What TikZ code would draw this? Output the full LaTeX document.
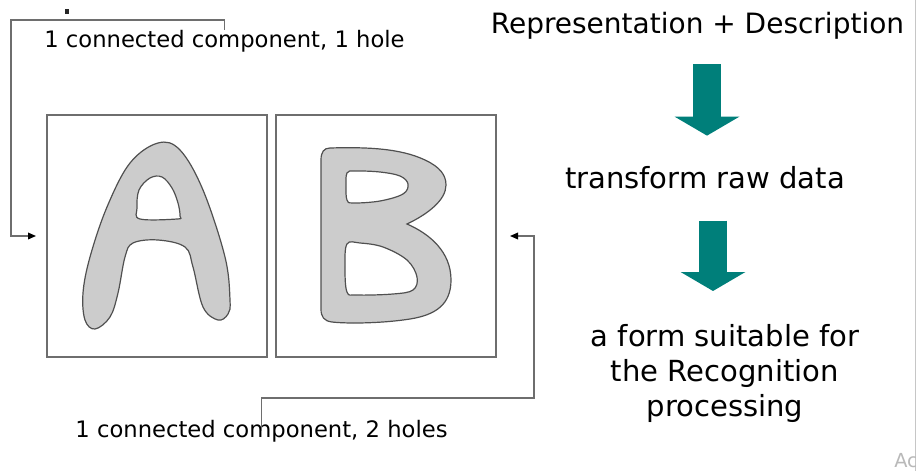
\documentclass[tikz,border=0pt]{standalone}
\usepackage{fontspec}
\setmainfont{DejaVu Sans}
\usetikzlibrary{arrows.meta,positioning,calc}
\definecolor{ArrowTeal}{HTML}{007F7A}
\definecolor{GlyphGray}{HTML}{CCCCCC}
\definecolor{GlyphEdge}{HTML}{505050}
\definecolor{FrameGray}{HTML}{6E6E6E}

\begin{document}
\begin{tikzpicture}[x=0.75pt,y=-0.75pt,
letterbox/.style={draw=FrameGray,line width=1.1pt,minimum width=165pt,minimum height=181.5pt,inner sep=0pt},
glyph/.style={draw=GlyphEdge,line width=0.9pt,fill=GlyphGray},
hole/.style={draw=GlyphEdge,line width=0.9pt,fill=white},
note/.style={font=\fontsize{17}{20}\selectfont,inner sep=0pt,anchor=base},
flowtext/.style={font=\fontsize{21.8}{26.25}\selectfont,inner sep=0pt,align=center},
link/.style={draw=FrameGray,line width=1pt,-{Triangle[length=6pt,width=5pt,black]}},
bigarrow/.style={draw=ArrowTeal,line width=21pt,-{Triangle[length=14.25pt,width=48pt]}}
]
\useasboundingbox (0,0) rectangle (916,471);

% Panel A: the two letter boxes
\node[letterbox] (boxA) at (157,236) {};
\node[letterbox] (boxB) at (386,236) {};
\draw[glyph] plot[smooth cycle,tension=0.6] coordinates {(95,329) (85,320) (83,293) (90,257) (107,207) (130,163) (158,143) (180,150) (203,190) (225,257) (230,300) (228,314) (218,320) (203,307) (193,267) (185,247) (158,240) (133,243) (125,257) (118,293) (110,317)};
\draw[hole] plot[smooth cycle,tension=0.6] coordinates {(140,219) (137,208) (139,190) (150,178) (162,177) (172,188) (178,203) (180,216) (177,219)};
\draw[glyph] (330,148) .. controls (365,147) and (400,148) .. (425,160)
  .. controls (440,167) and (446,175) .. (446,185)
  .. controls (446,200) and (428,214) .. (407,224)
  .. controls (430,234) and (451,252) .. (451,280)
  .. controls (451,305) and (435,315) .. (410,319)
  .. controls (385,323) and (350,324) .. (332,322)
  .. controls (324,321) and (321,317) .. (321,309)
  -- (321,160) .. controls (321,152) and (324,148) .. (330,148) -- cycle;
\draw[hole] plot[smooth cycle,tension=0.6] coordinates {(347,173) (355,171) (380,172) (400,176) (408,184) (403,194) (380,201) (353,203) (347,200) (346,187)};
\draw[hole] plot[smooth cycle,tension=0.6] coordinates {(347,244) (360,243) (383,247) (407,260) (417,277) (413,290) (393,294) (357,295) (347,292) (345,267)};

% labels and their elbow connectors
\node[note] (lblA) at (224.5,47) {1 connected component, 1 hole};
\node[note] (lblB) at (261.5,437) {1 connected component, 2 holes};
\fill[black!85] (64.5,9) rectangle (68.5,13.5);
\coordinate (cornerA) at (11,20);
\coordinate (inA) at (36,236);
\coordinate (cornerB) at (534,398);
\coordinate (inB) at (510,236);
\draw[link] (lblA.north) |- (cornerA) |- (inA);
\draw[link] (lblB.center) |- (cornerB) |- (inB);

% Panel B: processing chain
\node[flowtext,font=\fontsize{21}{25}\selectfont,anchor=base] (title) at (697.5,33) {Representation + Description};
\node[flowtext,anchor=base] (xform) at (705,188) {transform raw data};
\node[flowtext] (form) at (725,373) {a form suitable for\\the Recognition\\processing};
\draw[bigarrow,shorten <=19pt,shorten >=22.5pt] ([xshift=1.5pt]xform.north |- title.south) -- ([xshift=1.5pt]xform.north);
\draw[bigarrow,shorten <=24pt,shorten >=24.5pt] ([xshift=6pt]xform.south) -- ([xshift=6pt]xform.south |- form.north);

% slide edge
\draw[gray!45,line width=0.75pt] (915,0) -- (915,471);
\node[font=\fontsize{14.5}{16}\selectfont,text=gray!55,anchor=base west,inner sep=0pt] (wm) at (894,467) {Ac};
\end{tikzpicture}
\end{document}
